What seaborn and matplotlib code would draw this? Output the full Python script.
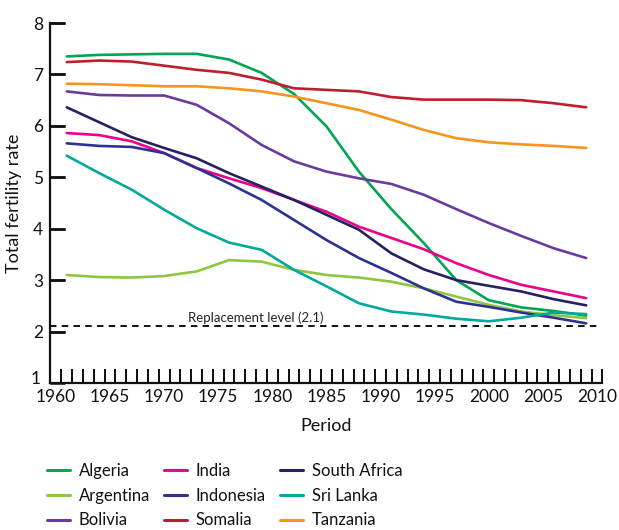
import matplotlib
matplotlib.use("Agg")
import matplotlib.pyplot as plt
from matplotlib.ticker import FixedLocator
from matplotlib.transforms import ScaledTranslation
import seaborn as sns
import pandas as pd

years = [1961, 1964, 1967, 1970, 1973, 1976, 1979, 1982, 1985, 1988, 1991,
         1994, 1997, 2000, 2003, 2006, 2009]

algeria = [7.35, 7.38, 7.39, 7.40, 7.40, 7.29, 7.03, 6.62, 5.99, 5.11, 4.38,
           3.72, 3.00, 2.61, 2.47, 2.40, 2.31]
argentina = [3.10, 3.06, 3.05, 3.08, 3.17, 3.39, 3.36, 3.20, 3.10, 3.05, 2.97,
             2.84, 2.68, 2.52, 2.39, 2.32, 2.26]
bolivia = [6.67, 6.60, 6.59, 6.59, 6.41, 6.05, 5.63, 5.31, 5.11, 4.98, 4.87,
           4.66, 4.38, 4.11, 3.86, 3.62, 3.43]
india = [5.86, 5.82, 5.70, 5.47, 5.18, 4.98, 4.79, 4.56, 4.33, 4.04, 3.82,
         3.60, 3.33, 3.10, 2.91, 2.78, 2.65]
indonesia = [5.66, 5.61, 5.59, 5.47, 5.18, 4.88, 4.56, 4.17, 3.78, 3.43, 3.14,
             2.84, 2.58, 2.48, 2.37, 2.27, 2.16]
somalia = [7.24, 7.27, 7.25, 7.17, 7.09, 7.03, 6.90, 6.73, 6.70, 6.67, 6.56,
           6.51, 6.51, 6.51, 6.50, 6.44, 6.36]
south_africa = [6.36, 6.07, 5.78, 5.57, 5.37, 5.08, 4.82, 4.56, 4.27, 3.98, 3.52,
                3.21, 3.00, 2.89, 2.78, 2.63, 2.51]
sri_lanka = [5.42, 5.08, 4.76, 4.37, 4.01, 3.73, 3.59, 3.20, 2.88, 2.55, 2.39,
             2.33, 2.25, 2.20, 2.27, 2.37, 2.34]
tanzania = [6.82, 6.81, 6.79, 6.77, 6.77, 6.73, 6.67, 6.57, 6.44, 6.31, 6.12,
            5.92, 5.76, 5.68, 5.64, 5.61, 5.57]

countries = ["Algeria", "Argentina", "Bolivia", "India", "Indonesia", "Somalia",
             "South Africa", "Sri Lanka", "Tanzania"]
series = [algeria, argentina, bolivia, india, indonesia, somalia,
          south_africa, sri_lanka, tanzania]
colors = ["#00a651", "#8dc63f", "#6a3b9c", "#ec008c", "#2e3192", "#be1e2d",
          "#262262", "#00a99d", "#f7941d"]

replacement_level = 2.1
x_tick_labels = [1960, 1965, 1970, 1975, 1980, 1985, 1990, 1995, 2000, 2005, 2010]
y_ticks = [1, 2, 3, 4, 5, 6, 7, 8]

rows = []
for c, vals in zip(countries, series):
    for y, v in zip(years, vals):
        rows.append({"Period": y, "Total fertility rate": v, "Country": c})
df = pd.DataFrame(rows)

sns.set_theme(style="ticks")
FONT = ["Lato", "DejaVu Sans"]
plt.rcParams["font.family"] = FONT

fig = plt.figure(figsize=(6.19, 5.30), dpi=100)
ax = fig.add_axes([50 / 619, 1 - 383 / 530, (602.4 - 50) / 619, (383 - 23) / 530])

sns.lineplot(data=df, x="Period", y="Total fertility rate", hue="Country",
             hue_order=countries, palette=dict(zip(countries, colors)),
             linewidth=1.9, ax=ax, legend=True)
handles, labels = ax.get_legend_handles_labels()
ax.get_legend().remove()

ax.axhline(replacement_level, color="black", linewidth=1.3,
           linestyle=(0, (3.6, 2.9)), xmin=0, xmax=0.995, zorder=1)
ax.text(1978.5, replacement_level + 0.04, "Replacement level (2.1)",
        ha="center", va="bottom", fontsize=9.5, color="#222222")

ax.set_xlim(1959.45, 2010.5)
ax.set_ylim(1, 8)
ax.set_xticks(x_tick_labels)
ax.set_xticklabels([str(t) for t in x_tick_labels])
year_marks = [t + 0.5 for t in range(1960, 2011)]
ax.xaxis.set_minor_locator(FixedLocator(year_marks))
ax.set_yticks(y_ticks)

ax.tick_params(axis="x", which="major", bottom=False, length=0, pad=4,
               labelsize=12.5, labelcolor="#111111")
ax.tick_params(axis="x", which="minor", bottom=True, direction="in",
               length=10, width=1.4, color="#111111")
ax.tick_params(axis="y", which="major", left=True, direction="in",
               length=11, width=1.8, pad=5, labelsize=12.5,
               color="#111111", labelcolor="#111111")

# tick marks also drawn explicitly, pointing into the plot
ax.vlines(year_marks, 0, 14 / 360, transform=ax.get_xaxis_transform(),
          colors="#111111", linewidth=1.4, clip_on=False, zorder=10)
ax.hlines(y_ticks[1:], 0, 15 / 552.4, transform=ax.get_yaxis_transform(),
          colors="#111111", linewidth=1.8, clip_on=False, zorder=10)

for s in ["top", "right"]:
    ax.spines[s].set_visible(False)
for s in ["left", "bottom"]:
    ax.spines[s].set_color("#111111")
    ax.spines[s].set_linewidth(1.6)

ax.set_xlabel("Period", fontsize=13, labelpad=10, color="#111111")
ax.set_ylabel("Total fertility rate", fontsize=13, labelpad=6, color="#111111")

fig.canvas.draw()
for lab in ax.get_yticklabels():
    if lab.get_text() == "1":
        lab.set_transform(lab.get_transform() +
                          ScaledTranslation(-2 / 72, 4 / 72, fig.dpi_scale_trans))

col_x = [47, 164, 280]
for i in range(3):
    leg = fig.legend(handles[i * 3:(i + 1) * 3], labels[i * 3:(i + 1) * 3],
                     loc="upper left",
                     bbox_to_anchor=(col_x[i] / 619, 1 - 463 / 530),
                     frameon=False, fontsize=12, handlelength=1.4,
                     handletextpad=0.5, borderpad=0, borderaxespad=0,
                     labelspacing=0.52)
    for line in leg.get_lines():
        line.set_linewidth(2.2)
    for t in leg.get_texts():
        t.set_color("#111111")

fig.savefig("out.png", dpi=100)
